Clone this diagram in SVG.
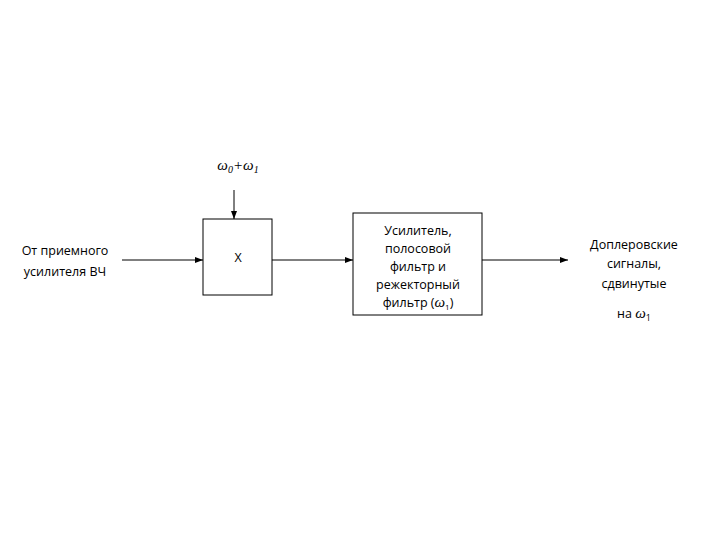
<svg xmlns="http://www.w3.org/2000/svg" width="720" height="540" viewBox="0 0 720 540">
<style>
text{font-family:"Open Sans","DejaVu Sans",sans-serif;font-size:12.5px;fill:#000;text-anchor:middle}
.w{font-family:"Liberation Serif",serif;font-style:italic;font-size:15px}
.box{fill:#fff;stroke:#000;stroke-width:1}
.c{stroke:#000;stroke-width:1;fill:none;marker-end:url(#a)}
</style>
<defs><marker id="a" markerWidth="8" markerHeight="6" refX="8" refY="3" orient="auto" markerUnits="userSpaceOnUse"><path d="M0,0L8,3L0,6z" fill="#000"/></marker></defs>
<rect width="720" height="540" fill="#fff"/>
<g id="input"><text x="65" y="255">От приемного</text><text x="65" y="276">усилителя ВЧ</text></g>
<g id="osc"><text class="w" x="238" y="170">ω<tspan font-size="10" dy="3">0</tspan><tspan dy="-3">+ω</tspan><tspan font-size="10" dy="3">1</tspan></text></g>
<g id="mixer"><rect class="box" x="203" y="219" width="69" height="76"/><text x="238" y="262" font-size="14">X</text></g>
<g id="filter"><rect class="box" x="353" y="213" width="129" height="102"/>
<text x="418" y="235">Усилитель,</text><text x="418" y="253">полосовой</text><text x="418" y="271">фильтр и</text><text x="418" y="289">режекторный</text><text x="418" y="307">фильтр (<tspan class="w" font-size="13">ω</tspan><tspan font-size="8" dy="3">1</tspan><tspan dy="-3">)</tspan></text></g>
<g id="output"><text x="634" y="249">Доплеровские</text><text x="634" y="268">сигналы,</text><text x="634" y="288">сдвинутые</text><text x="634" y="318">на <tspan class="w">ω</tspan><tspan font-size="9" dy="3">1</tspan></text></g>
<g id="connectors">
<path class="c" d="M122,260H203"/>
<path class="c" d="M234,190V219"/>
<path class="c" d="M272,260H353"/>
<path class="c" d="M482,260H568"/>
</g>
</svg>
